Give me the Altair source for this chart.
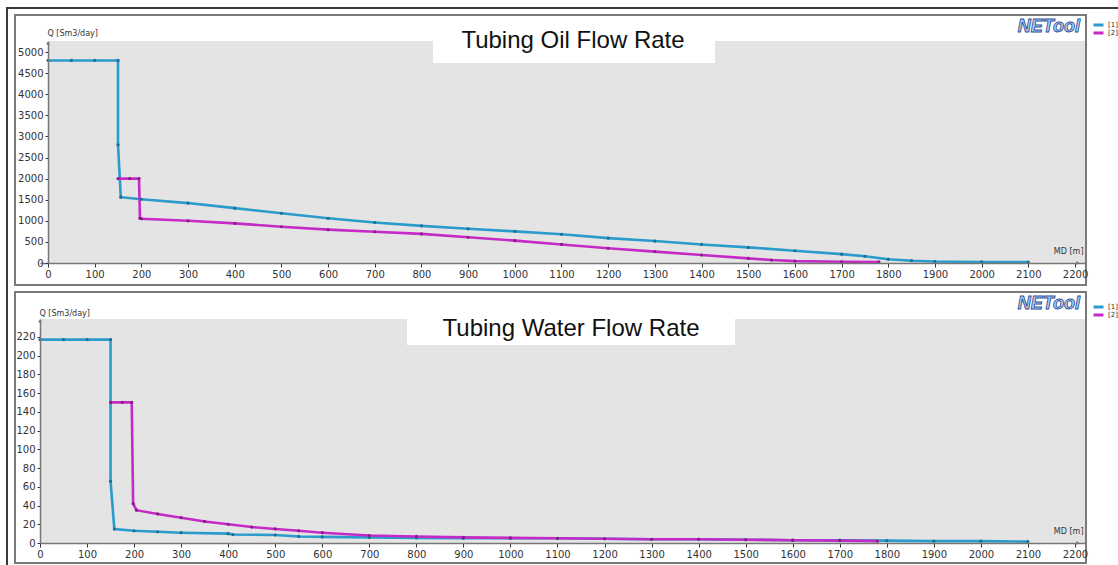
import altair as alt
import pandas as pd

series_names = ["[1]", "[2]"]
line_colors = ["#2b9bcb", "#c62ac6"]
dot_colors = ["#1c6f94", "#8a1c8a"]

# ---- Tubing oil flow rate ----
oil_md_1 = [0, 50, 100, 150, 150, 156, 200, 300, 400, 500, 600, 700, 800, 900, 1000,
            1100, 1200, 1300, 1400, 1500, 1600, 1700, 1750, 1800, 1850, 1900, 2000, 2100]
oil_q_1 = [4800, 4800, 4800, 4800, 2800, 1560, 1510, 1420, 1300, 1180, 1060, 960, 880, 810, 750,
           680, 590, 520, 440, 370, 290, 210, 160, 90, 55, 35, 25, 20]
oil_md_2 = [150, 175, 195, 197, 200, 300, 400, 500, 600, 700, 800, 900, 1000, 1100, 1200,
            1300, 1400, 1500, 1550, 1600, 1700, 1780]
oil_q_2 = [2000, 2000, 2000, 1060, 1050, 1000, 940, 860, 790, 740, 690, 610, 530, 440, 350,
           270, 190, 110, 70, 45, 30, 25]

# ---- Tubing water flow rate ----
wat_md_1 = [0, 50, 100, 150, 150, 158, 200, 250, 300, 400, 410, 500, 550, 600, 700, 800, 900,
            1000, 1100, 1200, 1300, 1400, 1500, 1600, 1700, 1800, 1900, 2000, 2100]
wat_q_1 = [217, 217, 217, 217, 66, 15, 13, 12, 11, 10, 9, 8.5, 7, 6.5, 6, 5.5, 5,
           5, 5, 4.5, 4, 4, 3.5, 3, 3, 2.5, 2, 2, 1.5]
wat_md_2 = [150, 175, 195, 198, 205, 250, 300, 350, 400, 450, 500, 550, 600, 700, 800, 900,
            1000, 1100, 1200, 1300, 1400, 1500, 1600, 1700, 1780]
wat_q_2 = [150, 150, 150, 42, 35, 31, 27, 23, 20, 17, 15, 13, 11, 8, 7, 6,
           5.5, 5, 4.5, 4, 4, 3.5, 3, 2.5, 2]

x_ticks = list(range(0, 2201, 100))
oil_ticks = list(range(0, 5001, 500))
wat_ticks = list(range(0, 221, 20))

FONT = "DejaVu Sans"
W = 1045


def make_df(mds, qs):
    rows = []
    for name, md, q in zip(series_names, mds, qs):
        for i, (m, v) in enumerate(zip(md, q)):
            rows.append({"series": name, "idx": i, "md": m, "q": v})
    return pd.DataFrame(rows)


def panel(df, cfg):
    H = cfg["h"]
    one = pd.DataFrame({"k": [0]})
    xs = alt.Scale(domain=cfg["xdom"], nice=False, zero=False)
    ys = alt.Scale(domain=cfg["ydom"], nice=False, zero=False)
    xaxis = alt.Axis(values=x_ticks, format="d", title="MD [m]", titleX=1043, titleY=-12,
                     titleAlign="right", titleBaseline="middle", titleAngle=0, titleFontSize=8,
                     titleFontWeight="normal", titleFont=FONT, titleColor="#333",
                     labelFont=FONT, labelFontSize=10, labelColor="#333", domainColor="#777",
                     domainWidth=1.5, tickColor="#333", tickSize=4, labelPadding=2, grid=False,
                     labelFlush=False, labelOverlap=False, zindex=2)
    yaxis = alt.Axis(values=cfg["yticks"], format="d", title="Q [Sm3/day]", titleX=-1,
                     titleY=cfg["qy"], titleAlign="left", titleBaseline="middle", titleAngle=0,
                     titleFontSize=8, titleFontWeight="normal", titleFont=FONT, titleColor="#333",
                     labelFont=FONT, labelFontSize=10, labelColor="#333", domainColor="#777",
                     domainWidth=1.5, tickColor="#333", tickSize=3, labelPadding=2, grid=False,
                     offset=cfg["yoff"], labelFlush=False, labelOverlap=False, zindex=2)
    X = alt.X("md:Q", scale=xs, axis=xaxis)
    Y = alt.Y("q:Q", scale=ys, axis=yaxis)

    layers = []
    if cfg.get("frame"):
        layers.append(alt.Chart(one).mark_rect(color="#3a3a3a", clip=False).encode(
            x=alt.value(-34), x2=alt.value(1078), y=alt.value(-34), y2=alt.value(-32)))
        layers.append(alt.Chart(one).mark_rect(color="#3a3a3a", clip=False).encode(
            x=alt.value(-34), x2=alt.value(-32), y=alt.value(-34), y2=alt.value(524)))
    layers.append(alt.Chart(one).mark_rect(fill="white", stroke="#7a7a7a", strokeWidth=2,
                                           clip=False).encode(
        x=alt.value(-25), x2=alt.value(1046), y=alt.value(cfg["box"][0]), y2=alt.value(cfg["box"][1])))
    layers.append(alt.Chart(one).mark_rect(color="#e4e4e4", clip=False).encode(
        x=alt.value(cfg["bgx"]), x2=alt.value(W), y=alt.value(0), y2=alt.value(H)))
    tb = cfg["tbox"]
    layers.append(alt.Chart(one).mark_rect(color="white", clip=False).encode(
        x=alt.value(tb[0]), x2=alt.value(tb[1]), y=alt.value(tb[2]), y2=alt.value(tb[3])))
    layers.append(alt.Chart(one).mark_text(text=cfg["title"], font="Liberation Sans", fontSize=24,
                                           color="#111", align="center", baseline="alphabetic",
                                           clip=False).encode(
        x=alt.value(cfg["tx"]), y=alt.value(cfg["ty"])))
    layers.append(alt.Chart(one).mark_text(text="NETool", font="Liberation Sans", fontSize=18,
                                           fontStyle="italic", fontWeight="bold", fill="#b9d3f2",
                                           stroke="#2a4f9a", strokeWidth=0.9, align="right",
                                           baseline="alphabetic", clip=False).encode(
        x=alt.value(1040), y=alt.value(cfg["logoy"])))
    # axis arrow heads
    layers.append(alt.Chart(one).mark_point(shape="triangle-up", filled=True, size=14,
                                            color="#666", opacity=1, clip=False).encode(
        x=alt.value(cfg["yoff"] * -1), y=alt.value(2)))
    layers.append(alt.Chart(one).mark_point(shape="triangle-right", filled=True, size=14,
                                            color="#666", opacity=1, clip=False).encode(
        x=alt.value(1038), y=alt.value(H)))

    lines = alt.Chart(df).mark_line(strokeWidth=2.6, clip=False).encode(
        x=X, y=Y, order="idx:Q",
        color=alt.Color("series:N", scale=alt.Scale(domain=series_names, range=line_colors),
                        legend=alt.Legend(orient="none", legendX=1052, legendY=cfg["legy"],
                                          title=None, symbolType="stroke", symbolStrokeWidth=3,
                                          symbolSize=100, labelFontSize=7, labelFont=FONT,
                                          labelColor="#333", rowPadding=0, clipHeight=7,
                                          labelOffset=3, padding=0, labelLimit=30)))
    dots = alt.Chart(df).mark_circle(size=10, opacity=1, clip=False).encode(
        x=X, y=Y,
        fill=alt.Fill("series:N", scale=alt.Scale(domain=series_names, range=dot_colors),
                      legend=None))
    layers += [lines, dots]
    return alt.layer(*layers).properties(width=W, height=H)


p1 = panel(make_df([oil_md_1, oil_md_2], [oil_q_1, oil_q_2]), {
    "h": 222, "xdom": [-17.1, 2221.4], "ydom": [0, 5261], "yticks": oil_ticks, "yoff": -8,
    "qy": -8, "box": [-26, 244], "bgx": 8, "tbox": [393, 675, -21, 22],
    "title": "Tubing Oil Flow Rate", "tx": 533, "ty": 7, "logoy": -9, "legy": -19.5,
    "frame": True})
p2 = panel(make_df([wat_md_1, wat_md_2], [wat_q_1, wat_q_2]), {
    "h": 224, "xdom": [0, 2221.3], "ydom": [0, 239], "yticks": wat_ticks, "yoff": 0,
    "qy": -6, "box": [-27, 244], "bgx": 0, "tbox": [367, 695, -12, 26],
    "title": "Tubing Water Flow Rate", "tx": 531, "ty": 17, "logoy": -10, "legy": -15.5,
    "frame": False})

chart = alt.vconcat(p1, p2, spacing=56, bounds="flush").resolve_scale(
    x="independent", y="independent", color="independent", fill="independent"
).properties(
    padding={"left": 6, "top": 7, "right": 0, "bottom": 0}, background="white"
).configure_view(strokeWidth=0)

chart.save("out.html", embed_options={"renderer": "svg", "actions": False})
